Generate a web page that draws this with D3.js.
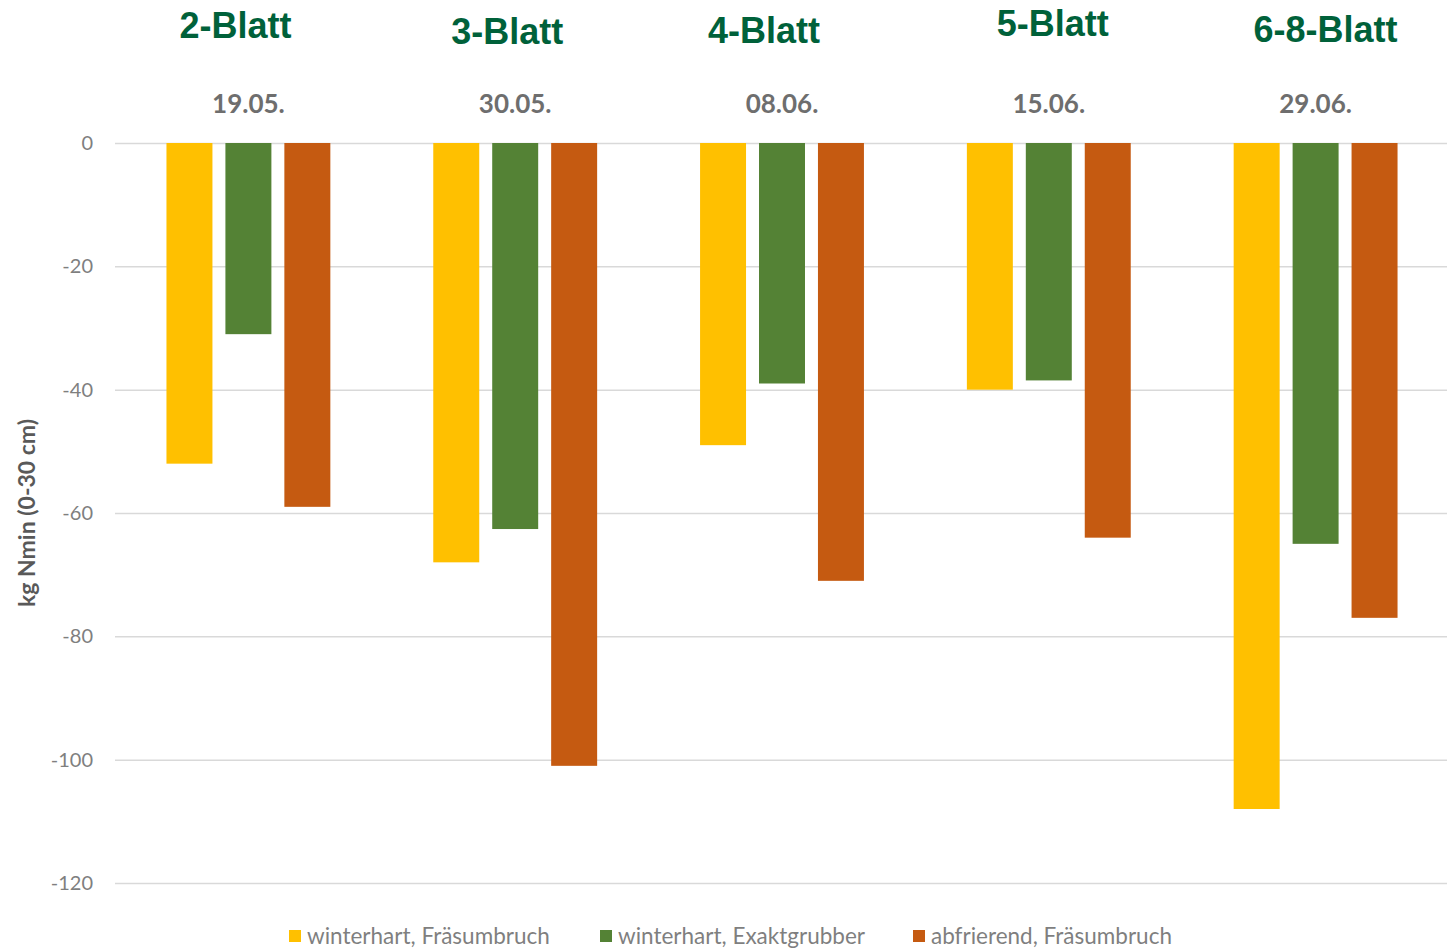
<!DOCTYPE html>
<html>
<head>
<meta charset="utf-8">
<script src="https://cdn.jsdelivr.net/npm/d3@7"></script>
<style>
  html, body { margin: 0; padding: 0; background: #fff; }
  svg { display: block; }
</style>
</head>
<body>
<svg id="chart" width="1447" height="949"></svg>
<script>
// Sampling dates and growth stages
const dates = ["19.05.", "30.05.", "08.06.", "15.06.", "29.06."];
const stages = ["2-Blatt", "3-Blatt", "4-Blatt", "5-Blatt", "6-8-Blatt"];
// Series: change in Nmin (kg/ha, 0-30 cm)
const seriesNames = ["winterhart, Fräsumbruch", "winterhart, Exaktgrubber", "abfrierend, Fräsumbruch"];
const winterhartFraes = [-52, -68, -49, -40, -108];
const winterhartGrubber = [-31, -62.6, -39, -38.5, -65];
const abfrierendFraes = [-59, -101, -71, -64, -77];
const yTicks = [0, -20, -40, -60, -80, -100, -120];

const colors = ["#FFC000", "#548235", "#C55A11"];
const seriesValues = [winterhartFraes, winterhartGrubber, abfrierendFraes];

// Stage title placement (offset from group centre, baseline)
const stageDx = [-13, -8, -18, 4, 10];
const stageBaseline = [38, 44, 43, 36, 42];

const svg = d3.select("#chart");
const plot = { left: 115, right: 1449, top: 143, bottom: 883 };

const x = d3.scaleBand().domain(dates).range([plot.left, plot.right]).paddingInner(0).paddingOuter(0);
const xs = d3.scaleBand().domain(d3.range(3)).range([0, x.bandwidth()]).paddingInner(0.22).paddingOuter(0.873);
const y = d3.scaleLinear().domain([0, -120]).range([plot.top, plot.bottom]);

// Gridlines + y labels
const yAxis = d3.axisLeft(y).tickValues(yTicks).tickSize(-(plot.right - plot.left)).tickPadding(22)
  .tickFormat(d => d === 0 ? "0" : "-" + Math.abs(d));
const gy = svg.append("g").attr("transform", `translate(${plot.left},0)`).call(yAxis);
gy.select(".domain").remove();
gy.selectAll(".tick line").attr("stroke", "#d9d9d9").attr("stroke-width", 1.5);
gy.selectAll(".tick text").attr("fill", "#7f7f7f").style("font-family", "Lato, 'Open Sans', sans-serif").style("font-size", "20px");

// Bars
dates.forEach((d, i) => {
  const g = svg.append("g").attr("transform", `translate(${x(d)},0)`);
  g.selectAll("rect").data(seriesValues.map((s, k) => ({ k, v: s[i] })))
    .join("rect")
    .attr("x", e => xs(e.k))
    .attr("width", xs.bandwidth())
    .attr("y", y(0))
    .attr("height", e => y(e.v) - y(0))
    .attr("fill", e => colors[e.k]);
});

// Date labels
svg.append("g").selectAll("text").data(dates).join("text")
  .attr("x", d => x(d) + x.bandwidth() / 2)
  .attr("y", 113)
  .attr("text-anchor", "middle")
  .attr("fill", "#6e6e6e")
  .style("font-family", "Lato, 'Open Sans', sans-serif")
  .style("font-weight", "bold")
  .style("font-size", "26px")
  .text(d => d);

// Growth stage titles
svg.append("g").selectAll("text").data(stages).join("text")
  .attr("x", (s, i) => x(dates[i]) + x.bandwidth() / 2 + stageDx[i])
  .attr("y", (s, i) => stageBaseline[i])
  .attr("text-anchor", "middle")
  .attr("fill", "#00613A")
  .style("font-family", "'Liberation Sans', Arial, sans-serif")
  .style("font-weight", "bold")
  .style("font-size", "36px")
  .text(s => s);

// Y axis title
svg.append("text")
  .attr("transform", `translate(35,${(plot.top + plot.bottom) / 2}) rotate(-90)`)
  .attr("text-anchor", "middle")
  .attr("fill", "#595959")
  .style("font-family", "Lato, 'Open Sans', sans-serif")
  .style("font-weight", "bold")
  .style("font-size", "23px")
  .text("kg Nmin (0-30 cm)");

// Legend
const legendX = [289, 600, 913];
const lg = svg.append("g").selectAll("g").data(seriesNames).join("g")
  .attr("transform", (d, i) => `translate(${legendX[i]},936)`);
lg.append("rect").attr("x", 0).attr("y", -6).attr("width", 12).attr("height", 12).attr("fill", (d, i) => colors[i]);
lg.append("text").attr("x", 18).attr("y", 8)
  .attr("fill", "#7f7f7f")
  .style("font-family", "Lato, 'Open Sans', sans-serif")
  .style("font-size", "22.5px")
  .text(d => d);
</script>
</body>
</html>
